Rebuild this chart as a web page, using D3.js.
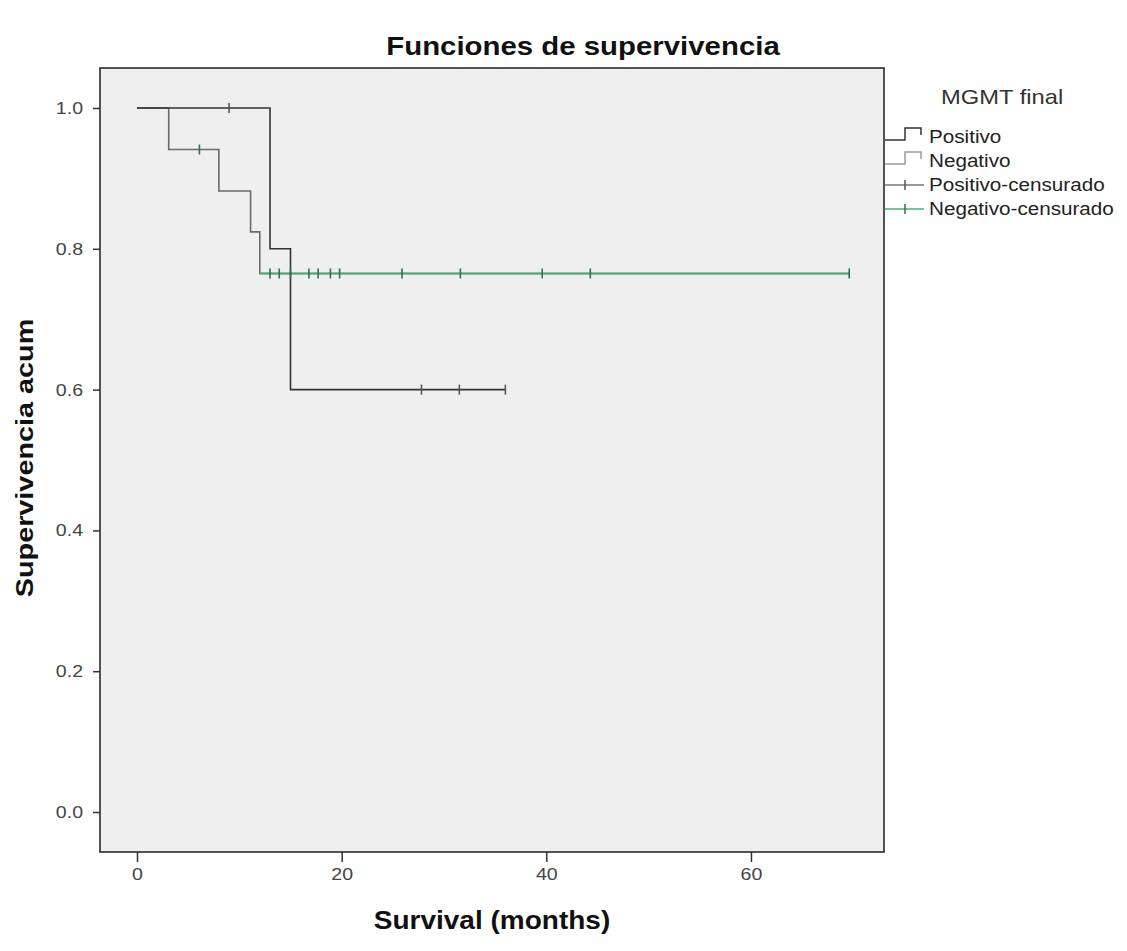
<!DOCTYPE html>
<html>
<head>
<meta charset="utf-8">
<script src="https://cdn.jsdelivr.net/npm/d3@7"></script>
<style>
  html, body { margin: 0; padding: 0; background: #fff; }
  svg { display: block; font-family: "Liberation Sans", Arial, sans-serif; }
</style>
</head>
<body>
<svg id="chart" width="1127" height="951"></svg>
<script>
// Kaplan-Meier survival by MGMT status
const posEventTimes = [0, 13.0, 15.0];
const posSurvival   = [1.0, 0.8, 0.6];
const posLastTime   = 36.0;
const posCensored   = [9.0, 27.8, 31.5, 36.0];

const negEventTimes = [0, 3.1, 8.0, 11.1, 12.0];
const negSurvival   = [1.0, 0.941, 0.882, 0.824, 0.765];
const negLastTime   = 69.6;
const negCensored   = [6.1, 13.0, 13.9, 15.0, 16.8, 17.7, 18.9, 19.8, 25.9, 31.6, 39.6, 44.3, 69.6];

const xTicks = [0, 20, 40, 60];
const yTicks = [0.0, 0.2, 0.4, 0.6, 0.8, 1.0];
const legendLabels = ["Positivo", "Negativo", "Positivo-censurado", "Negativo-censurado"];

const svg = d3.select("#chart");
const plot = { left: 100, right: 884, top: 68, bottom: 852 };

const x = d3.scaleLinear().domain([-3.616, 73.0]).range([plot.left, plot.right]);
const y = d3.scaleLinear().domain([-0.0568, 1.0568]).range([plot.bottom, plot.top]);

// horizontal stretch of text, like the original rendering
function stretch(sel, k) {
  sel.each(function () {
    const w = this.getComputedTextLength();
    d3.select(this).attr("textLength", w * k).attr("lengthAdjust", "spacingAndGlyphs");
  });
}

// plot area background
svg.append("rect")
  .attr("x", plot.left).attr("y", plot.top)
  .attr("width", plot.right - plot.left).attr("height", plot.bottom - plot.top)
  .attr("fill", "#efefef");

// title
svg.append("text")
  .attr("x", 583).attr("y", 55)
  .attr("text-anchor", "middle")
  .attr("font-size", 26).attr("font-weight", "bold").attr("fill", "#111")
  .text("Funciones de supervivencia")
  .call(stretch, 1.13);

// axes
const yAxis = svg.append("g")
  .attr("transform", `translate(${plot.left},0)`)
  .call(d3.axisLeft(y).tickValues(yTicks).tickFormat(d3.format(".1f")).tickSize(7).tickPadding(10));
const xAxis = svg.append("g")
  .attr("transform", `translate(0,${plot.bottom})`)
  .call(d3.axisBottom(x).tickValues(xTicks).tickFormat(d3.format("d")).tickSize(10).tickPadding(6));

[yAxis, xAxis].forEach(g => {
  g.select(".domain").remove();
  g.selectAll(".tick line").attr("stroke", "#333").attr("stroke-width", 1.5);
  g.selectAll(".tick text")
    .attr("font-size", 17).attr("fill", "#444")
    .attr("font-family", "Liberation Sans, Arial, sans-serif")
    .call(stretch, 1.15);
});

// axis titles
svg.append("text")
  .attr("transform", `translate(33,458) rotate(-90)`)
  .attr("text-anchor", "middle")
  .attr("font-size", 24).attr("font-weight", "bold").attr("fill", "#111")
  .text("Supervivencia acum")
  .call(stretch, 1.2);

svg.append("text")
  .attr("x", 492).attr("y", 929)
  .attr("text-anchor", "middle")
  .attr("font-size", 25).attr("font-weight", "bold").attr("fill", "#111")
  .text("Survival (months)")
  .call(stretch, 1.12);

// survival curves
function stepPoints(times, surv, last) {
  const pts = times.map((t, i) => [t, surv[i]]);
  pts.push([last, surv[surv.length - 1]]);
  return pts;
}
function survAt(times, surv, t) {
  let s = surv[0];
  times.forEach((tt, i) => { if (tt <= t) s = surv[i]; });
  return s;
}
const stepLine = d3.line().x(d => x(d[0])).y(d => y(d[1])).curve(d3.curveStepAfter);
const flatLine = d3.line().x(d => x(d[0])).y(d => y(d[1]));

const g = svg.append("g").attr("fill", "none");

// Negativo step curve
g.append("path")
  .attr("d", stepLine(stepPoints(negEventTimes, negSurvival, negLastTime)))
  .attr("stroke", "#6a6a6a").attr("stroke-width", 1.6);

// Negativo censored segment (green)
const negTail = negSurvival[negSurvival.length - 1];
g.append("path")
  .attr("d", flatLine([[negEventTimes[negEventTimes.length - 1], negTail], [negLastTime, negTail]]))
  .attr("stroke", "#45b077").attr("stroke-width", 2).attr("stroke-opacity", 0.9);

// Positivo step curve
g.append("path")
  .attr("d", stepLine(stepPoints(posEventTimes, posSurvival, posLastTime)))
  .attr("stroke", "#333").attr("stroke-width", 1.6);

// censor marks
g.selectAll(".pos-cens").data(posCensored).join("line")
  .attr("class", "pos-cens")
  .attr("x1", d => x(d)).attr("x2", d => x(d))
  .attr("y1", d => y(survAt(posEventTimes, posSurvival, d)) - 5)
  .attr("y2", d => y(survAt(posEventTimes, posSurvival, d)) + 5)
  .attr("stroke", "#555").attr("stroke-width", 1.6);

g.selectAll(".neg-cens").data(negCensored).join("line")
  .attr("class", "neg-cens")
  .attr("x1", d => x(d)).attr("x2", d => x(d))
  .attr("y1", d => y(survAt(negEventTimes, negSurvival, d)) - 5)
  .attr("y2", d => y(survAt(negEventTimes, negSurvival, d)) + 5)
  .attr("stroke", "#2f6f58").attr("stroke-width", 1.6);

// plot frame
svg.append("rect")
  .attr("x", plot.left).attr("y", plot.top)
  .attr("width", plot.right - plot.left).attr("height", plot.bottom - plot.top)
  .attr("fill", "none").attr("stroke", "#2a2a2a").attr("stroke-width", 1.6);

// legend
const leg = svg.append("g");
leg.append("text")
  .attr("x", 941).attr("y", 104)
  .attr("font-size", 21).attr("fill", "#333")
  .text("MGMT final")
  .call(stretch, 1.13);

const legY = [143, 167, 191, 215];
const legColors = ["#333", "#9a9a9a", "#777", "#45b077"];
legendLabels.forEach((lab, i) => {
  const yy = legY[i];
  if (i < 2) {
    leg.append("path")
      .attr("d", `M885,${yy - 3}H905V${yy - 15}H921V${yy - 8}`)
      .attr("fill", "none").attr("stroke", legColors[i]).attr("stroke-width", 1.5);
  } else {
    leg.append("line")
      .attr("x1", 885).attr("x2", 924).attr("y1", yy - 6).attr("y2", yy - 6)
      .attr("stroke", legColors[i]).attr("stroke-width", 1.5);
    leg.append("line")
      .attr("x1", 905).attr("x2", 905).attr("y1", yy - 11).attr("y2", yy - 1)
      .attr("stroke", i === 2 ? "#555" : "#2f6f58").attr("stroke-width", 1.5);
  }
  leg.append("text")
    .attr("x", 929).attr("y", yy)
    .attr("font-size", 17.5).attr("fill", "#222")
    .text(lab)
    .call(stretch, 1.18);
});
</script>
</body>
</html>
